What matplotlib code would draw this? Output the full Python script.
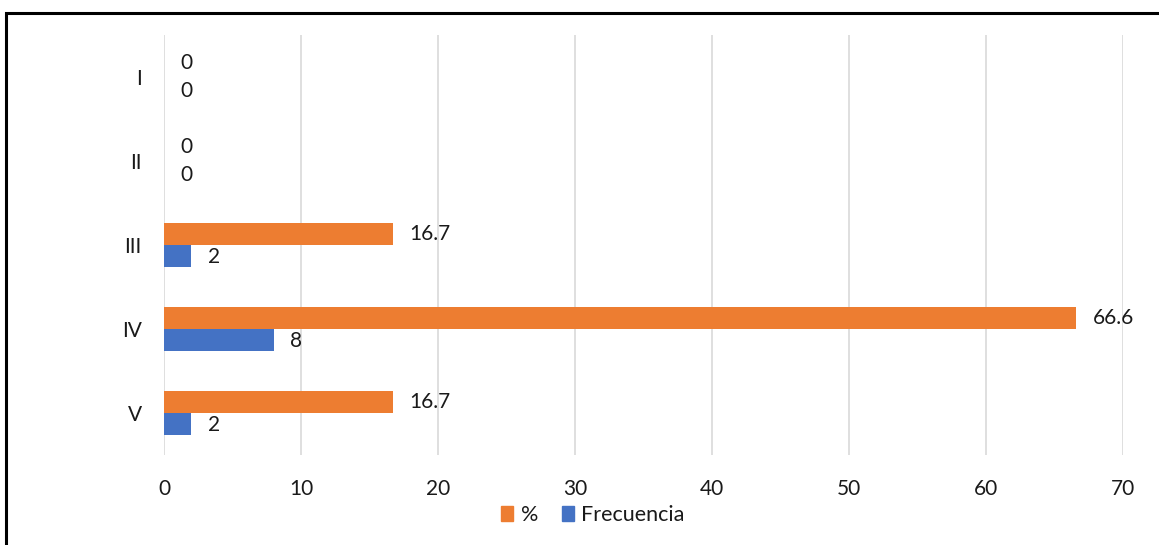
import matplotlib.pyplot as plt
from matplotlib.patches import Rectangle, Patch

categories = ["I", "II", "III", "IV", "V"]
porcentaje = [0, 0, 16.7, 66.6, 16.7]
frecuencia = [0, 0, 2, 8, 2]
porcentaje_labels = ["0", "0", "16.7", "66.6", "16.7"]
frecuencia_labels = ["0", "0", "2", "8", "2"]
xticks = [0, 10, 20, 30, 40, 50, 60, 70]

orange = "#ED7D31"
blue = "#4472C4"
text_color = "#1a1a1a"

plt.rcParams['font.family'] = ['Lato', 'DejaVu Sans']

fig = plt.figure(figsize=(11.59, 5.45), dpi=100)
ax = fig.add_axes([164 / 1159, 1 - 455 / 545, (1123 - 164) / 1159, (455 - 35) / 545])

pos = list(range(len(categories)))
h = 0.26
ax.barh([p - h / 2 for p in pos], porcentaje, height=h, color=orange, label="%")
ax.barh([p + h / 2 for p in pos], frecuencia, height=h, color=blue, label="Frecuencia")

# value labels; labels sitting on empty bars are spread a little apart
for p, v, lab in zip(pos, porcentaje, porcentaje_labels):
    dy = 2 if v == 0 else 0
    ax.annotate(lab, (v, p - h / 2), xytext=(12, dy), textcoords="offset points",
                va="center", ha="left", fontsize=15, color=text_color)
for p, v, lab in zip(pos, frecuencia, frecuencia_labels):
    dy = -2 if v == 0 else -1
    ax.annotate(lab, (v, p + h / 2), xytext=(12, dy), textcoords="offset points",
                va="center", ha="left", fontsize=15, color=text_color)

ax.set_xlim(0, 70)
ax.set_ylim(len(categories) - 0.5, -0.5)
ax.set_yticks(pos)
ax.set_yticklabels(categories)
ax.set_xticks(xticks)
ax.tick_params(axis="both", length=0, labelsize=15, labelcolor=text_color)
ax.tick_params(axis="y", pad=16)
ax.tick_params(axis="x", pad=17)
ax.grid(axis="x", color="#D9D9D9", linewidth=1.2)
ax.set_axisbelow(True)
for s in ax.spines.values():
    s.set_visible(False)

handles = [Patch(color=orange), Patch(color=blue)]
fig.legend(handles, ["%", "Frecuencia"], loc="center", bbox_to_anchor=(593 / 1159, 1 - 515 / 545),
           ncol=2, frameon=False, fontsize=15.5, handlelength=0.55, handleheight=0.65,
           handletextpad=0.35, columnspacing=1.1, labelcolor=text_color)

fig.patches.append(Rectangle((6 / 1159, -0.1), 1.2, 1 - 13 / 545 + 0.1, transform=fig.transFigure,
                             fill=False, edgecolor="black", linewidth=2.2))

fig.savefig("out.png", dpi=100, facecolor="white")
